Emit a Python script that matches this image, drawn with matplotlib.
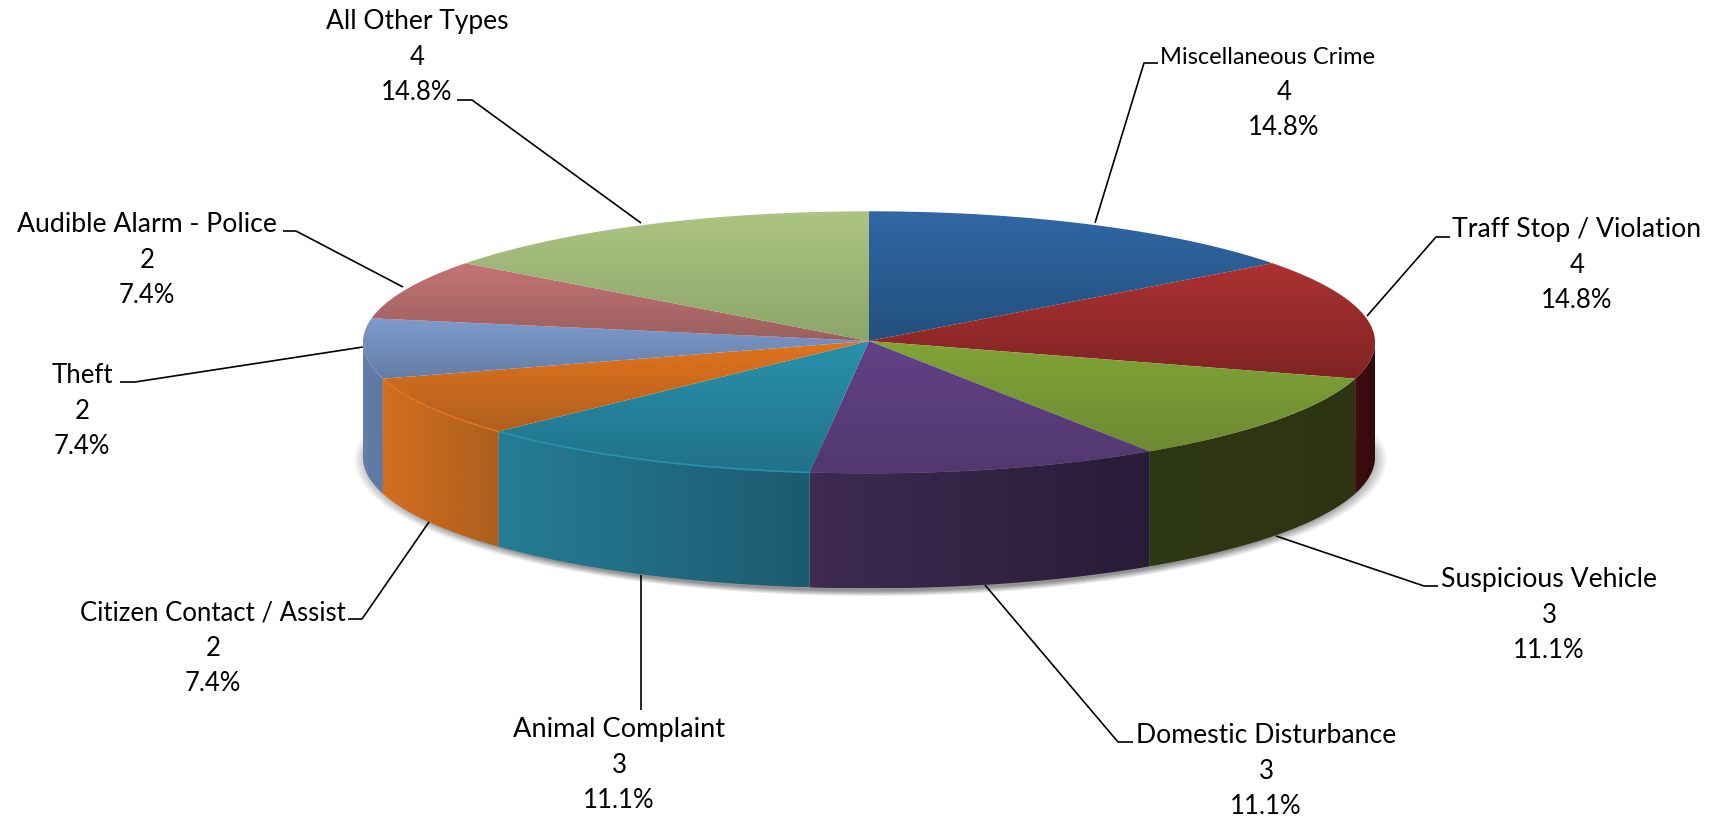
"""Perspective 3-D pie of call types, drawn by hand since matplotlib has no such pie."""

import numpy as np
import matplotlib
matplotlib.use('Agg')
import matplotlib.pyplot as plt
from matplotlib.patches import Polygon

plt.rcParams['font.family'] = ['Lato', 'DejaVu Sans']

categories = ['Miscellaneous Crime', 'Traff Stop / Violation', 'Suspicious Vehicle',
              'Domestic Disturbance', 'Animal Complaint', 'Citizen Contact / Assist',
              'Theft', 'Audible Alarm - Police', 'All Other Types']
counts = [4, 4, 3, 3, 3, 2, 2, 2, 4]

# gradient colours: top face (upper, lower), side wall (left, right)
top_colors = [((48, 103, 165), (35, 80, 125)), ((172, 50, 50), (128, 35, 35)),
              ((128, 165, 55), (110, 138, 50)), ((98, 66, 136), (82, 56, 110)),
              ((40, 146, 172), (33, 113, 138)), ((226, 116, 30), (175, 95, 30)),
              ((125, 155, 205), (100, 125, 165)), ((197, 116, 116), (155, 95, 95)),
              ((173, 196, 130), (140, 165, 105))]
side_colors = [((30, 60, 100), (30, 60, 100)), ((64, 14, 14), (52, 10, 10)),
               ((47, 56, 20), (45, 52, 18)), ((62, 42, 82), (40, 28, 55)),
               ((37, 125, 150), (28, 90, 110)), ((212, 110, 30), (172, 95, 30)),
               ((100, 125, 170), (95, 120, 160)), ((120, 70, 70), (120, 70, 70)),
               ((100, 120, 80), (100, 120, 80))]

# label text centres (x, y of first line) and line spacing, in pixels
label_pos = [(1268, 57), (1577, 230), (1549, 580), (1266, 736), (619, 730),
             (213, 613), (82, 376), (147, 225), (417, 22)]
value_x = [1284, 1577, 1549, 1266, 619, 213, 82, 147, 417]
# Lato runs wider or narrower than the original font depending on the word
name_sizes = [17, 19.2, 19.2, 19.2, 19.6, 18.5, 18.5, 19.2, 19]
line_h = 35.3

leaders = [[(1158, 64), (1144, 64), (1095, 224)],
           [(1450, 238), (1436, 238), (1367, 317)],
           [(1438, 587), (1424, 587), (1276, 537)],
           [(1133, 743), (1118, 743), (985, 586)],
           [(641, 711), (641, 576)],
           [(348, 620), (362, 620), (429, 523)],
           [(120, 383), (135, 383), (363, 348)],
           [(283, 232), (296, 232), (403, 288)],
           [(457, 101), (472, 101), (641, 224)]]

CX, CY = 869, 342
A, B = 506, 131
TILT_Y = 0.01
DEPTH = 115


def project(theta):
    """Clockwise angle from 12 o'clock (degrees) to pixel position on the rim."""
    t = np.radians(np.asarray(theta, dtype=float))
    u, v = np.sin(t), np.cos(t)
    w = 1 + TILT_Y * v
    return CX + A * u / w, CY - B * v / w


def gradient_fill(ax, pts, c0, c1, vertical, zorder):
    """Fill polygon pts with a linear gradient from c0 to c1."""
    pts = np.array(pts)
    x0, y0 = pts.min(axis=0)
    x1, y1 = pts.max(axis=0)
    f = np.linspace(0, 1, 256)[:, None]
    img = (np.array(c0) * (1 - f) + np.array(c1) * f) / 255
    img = img[:, None, :] if vertical else img[None, :, :]
    poly = Polygon(pts, closed=True, transform=ax.transData, facecolor='none', edgecolor='none')
    ax.add_patch(poly)
    im = ax.imshow(img, extent=(x0, x1, y1, y0), aspect='auto', zorder=zorder,
                   interpolation='bilinear')
    im.set_clip_path(poly)


fig = plt.figure(figsize=(17.22, 8.20), dpi=100)
ax = fig.add_axes([0, 0, 1, 1])
ax.axis('off')

# soft shadow under the disc
yy, xx = np.mgrid[400:620, 320:1420]
r = np.sqrt(((xx - 870) / 517) ** 2 + ((yy - 460) / 137) ** 2)
alpha = np.clip((1.0 - r) / 0.04, 0, 1) * np.clip((yy - 425) / 25, 0, 1) * 0.65
shadow = np.zeros(xx.shape + (4,))
shadow[..., :3] = 0.35
shadow[..., 3] = alpha
ax.imshow(shadow, extent=(320, 1420, 620, 400), aspect='auto', zorder=1)

total = sum(counts)
edges = np.cumsum([0] + counts) / total * 360

# silhouette angles, where the side wall begins and ends
scan = np.linspace(0, 360, 3601)
sx, sy = project(scan)
theta_r = scan[np.argmax(sx)]
theta_l = scan[np.argmin(sx)]

for i in range(len(counts)):
    # side wall, only on the part of the rim facing the viewer
    a0, a1 = max(edges[i], theta_r), min(edges[i + 1], theta_l)
    if a1 > a0:
        th = np.linspace(a0, a1, 80)
        x, y = project(th)
        wall = list(zip(x, y)) + list(zip(x[::-1], y[::-1] + DEPTH))
        gradient_fill(ax, wall, side_colors[i][0], side_colors[i][1], False, 2)
        if i in (4, 5):
            ax.plot(x, y, color=np.array(top_colors[i][0]) / 255, lw=1.2, zorder=4)

    # top face
    th = np.linspace(edges[i], edges[i + 1], 80)
    x, y = project(th)
    face = [(CX, CY)] + list(zip(x, y))
    gradient_fill(ax, face, top_colors[i][0], top_colors[i][1], True, 3)

# labels and leader lines
for i, name in enumerate(categories):
    lx, ly = label_pos[i]
    pct = f'{100 * counts[i] / total:.1f}%'
    ax.text(lx, ly, name, ha='center', va='center', fontsize=name_sizes[i], color='black', zorder=6)
    ax.text(value_x[i], ly + line_h, str(counts[i]), ha='center', va='center', fontsize=18.5, zorder=6)
    ax.text(value_x[i], ly + 2 * line_h, pct, ha='center', va='center', fontsize=18.5, zorder=6)
    xs, ys = zip(*leaders[i])
    ax.plot(xs, ys, color='black', lw=1.2, zorder=5, solid_capstyle='butt')

ax.set_xlim(0, 1722)
ax.set_ylim(820, 0)

plt.savefig('out.png', dpi=100)
